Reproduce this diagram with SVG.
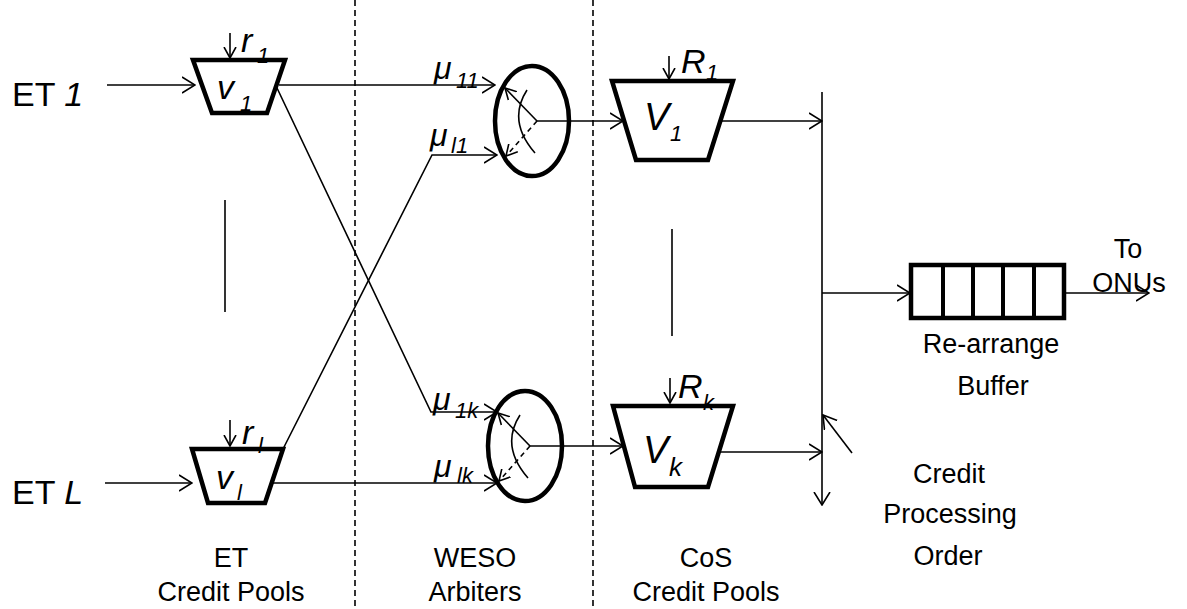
<svg xmlns="http://www.w3.org/2000/svg" width="1187" height="609" viewBox="0 0 1187 609">
<defs>
<style>
.lbl{font-family:"Liberation Sans",Arial,sans-serif;font-size:27px;fill:#000}
.big{font-family:"Liberation Sans",Arial,sans-serif;font-size:34px;fill:#000}
.math{font-family:"Liberation Sans",Arial,sans-serif;font-style:italic;fill:#000}
.shape{fill:#fff;stroke:#000;stroke-width:4.5;stroke-linejoin:miter}
.conn{fill:none;stroke:#000;stroke-width:1.6}
.sep{fill:none;stroke:#000;stroke-width:1.6;stroke-dasharray:6 4}
.thin{fill:none;stroke:#000;stroke-width:1.6}
</style>
<marker id="arr" markerUnits="userSpaceOnUse" viewBox="0 0 14 18" markerWidth="14" markerHeight="18" refX="13" refY="9" orient="auto">
<path d="M0,1 L13,9 L0,17" fill="none" stroke="#000" stroke-width="1.6"/>
</marker>
<marker id="arrs" markerUnits="userSpaceOnUse" viewBox="0 0 12 14" markerWidth="12" markerHeight="14" refX="11" refY="7" orient="auto">
<path d="M0,1 L11,7 L0,13" fill="none" stroke="#000" stroke-width="1.6"/>
</marker>
</defs>
<rect width="1187" height="609" fill="#fff"/>

<g id="separators">
<line class="sep" x1="355" y1="0" x2="355" y2="609"/>
<line class="sep" x1="593" y1="0" x2="593" y2="609"/>
<line class="thin" x1="225" y1="200" x2="225" y2="312"/>
<line class="thin" x1="672" y1="229" x2="672" y2="336"/>
</g>

<g id="connectors">
<line class="conn" x1="107" y1="85" x2="195" y2="85" marker-end="url(#arr)"/>
<line class="conn" x1="105" y1="483" x2="192" y2="483" marker-end="url(#arr)"/>
<line class="conn" x1="279" y1="85" x2="495" y2="85" marker-end="url(#arr)"/>
<polyline class="conn" points="277,88 431,412 497,412" marker-end="url(#arr)"/>
<polyline class="conn" points="283,449 432,155 497,155" marker-end="url(#arr)"/>
<line class="conn" x1="270" y1="483" x2="497" y2="483" marker-end="url(#arr)"/>
<line class="conn" x1="537" y1="121" x2="623" y2="121" marker-end="url(#arr)"/>
<line class="conn" x1="530" y1="446" x2="623" y2="446" marker-end="url(#arr)"/>
<line class="conn" x1="722" y1="121" x2="822" y2="121" marker-end="url(#arr)"/>
<line class="conn" x1="719" y1="452" x2="822" y2="452" marker-end="url(#arr)"/>
<line class="conn" x1="822" y1="92" x2="822" y2="505" marker-end="url(#arr)"/>
<line class="conn" x1="852" y1="453" x2="823" y2="415" marker-end="url(#arr)"/>
<line class="conn" x1="822" y1="293" x2="910" y2="293" marker-end="url(#arr)"/>
<line class="conn" x1="1064" y1="293" x2="1149" y2="293" marker-end="url(#arr)"/>
<line class="conn" x1="230" y1="33" x2="230" y2="58" marker-end="url(#arrs)"/>
<line class="conn" x1="230" y1="420" x2="230" y2="446" marker-end="url(#arrs)"/>
<line class="conn" x1="669" y1="56" x2="669" y2="79" marker-end="url(#arrs)"/>
<line class="conn" x1="670" y1="378" x2="670" y2="403" marker-end="url(#arrs)"/>
</g>

<g id="et1">
<text class="big" x="12" y="106">ET <tspan class="math">1</tspan></text>
</g>
<g id="etL">
<text class="big" x="12" y="504">ET <tspan class="math">L</tspan></text>
</g>

<g id="pool-v1">
<polygon class="shape" points="193,60 285,60 267,113 212,113"/>
<text class="math" x="217" y="99" font-size="34">v</text>
<text class="math" x="240" y="111" font-size="22">1</text>
<text class="math" x="241" y="52" font-size="34">r</text>
<text class="math" x="257" y="63" font-size="22">1</text>
</g>

<g id="pool-vl">
<polygon class="shape" points="192,449 283,449 265,503 208,503"/>
<text class="math" x="216" y="489" font-size="34">v</text>
<text class="math" x="237" y="500" font-size="22">l</text>
<text class="math" x="242" y="444" font-size="34">r</text>
<text class="math" x="258" y="453" font-size="22">l</text>
</g>

<g id="mu-labels">
<text class="math" x="434" y="79" font-size="32">μ</text>
<text class="math" x="456" y="88" font-size="22">11</text>
<text class="math" x="430" y="146" font-size="32">μ</text>
<text class="math" x="451" y="153" font-size="22">l1</text>
<text class="math" x="433" y="410" font-size="32">μ</text>
<text class="math" x="455" y="418" font-size="22">1k</text>
<text class="math" x="434" y="477" font-size="32">μ</text>
<text class="math" x="457" y="483" font-size="22">lk</text>
</g>

<g id="arbiter-1">
<ellipse class="shape" cx="532" cy="121" rx="37" ry="55" style="fill:none"/>
<g id="arb1-inner">
<line class="conn" x1="537" y1="121" x2="505" y2="88" marker-end="url(#arrs)"/>
<line class="conn" x1="537" y1="121" x2="506" y2="156" stroke-dasharray="5 4" marker-end="url(#arrs)"/>
<path class="conn" d="M527,90 Q507,121 535,153"/>
</g>
</g>

<g id="arbiter-k">
<ellipse class="shape" cx="525" cy="446" rx="37" ry="55" style="fill:none"/>
<g transform="translate(-7,325)">
<line class="conn" x1="537" y1="121" x2="505" y2="88" marker-end="url(#arrs)"/>
<line class="conn" x1="537" y1="121" x2="506" y2="156" stroke-dasharray="5 4" marker-end="url(#arrs)"/>
<path class="conn" d="M527,90 Q507,121 535,153"/>
</g>
</g>

<g id="pool-V1">
<polygon class="shape" points="612,81 733,81 708,160 636,160"/>
<text class="math" x="644" y="130" font-size="38">V</text>
<text class="math" x="670" y="141" font-size="22">1</text>
<text class="math" x="681" y="73" font-size="34">R</text>
<text class="math" x="706" y="80" font-size="22">1</text>
</g>

<g id="pool-Vk">
<polygon class="shape" points="613,406 733,406 708,487 635,487"/>
<text class="math" x="643" y="463" font-size="38">V</text>
<text class="math" x="669" y="476" font-size="26">k</text>
<text class="math" x="678" y="398" font-size="34">R</text>
<text class="math" x="703" y="410" font-size="22">k</text>
</g>

<g id="buffer">
<rect class="shape" x="911" y="265" width="153" height="53"/>
<line stroke="#000" stroke-width="4" x1="943" y1="265" x2="943" y2="318"/>
<line stroke="#000" stroke-width="4" x1="973" y1="265" x2="973" y2="318"/>
<line stroke="#000" stroke-width="4" x1="1003" y1="265" x2="1003" y2="318"/>
<line stroke="#000" stroke-width="4" x1="1034" y1="265" x2="1034" y2="318"/>
<text class="lbl" x="991" y="353" text-anchor="middle">Re-arrange</text>
<text class="lbl" x="993" y="395" text-anchor="middle">Buffer</text>
</g>

<g id="to-onus">
<text class="lbl" x="1128" y="258" text-anchor="middle">To</text>
<text class="lbl" x="1129" y="292" text-anchor="middle">ONUs</text>
</g>

<g id="order-label">
<text class="lbl" x="949" y="483" text-anchor="middle">Credit</text>
<text class="lbl" x="950" y="523" text-anchor="middle">Processing</text>
<text class="lbl" x="948" y="565" text-anchor="middle">Order</text>
</g>

<g id="column-labels">
<text class="lbl" x="231" y="567" text-anchor="middle">ET</text>
<text class="lbl" x="231" y="601" text-anchor="middle">Credit Pools</text>
<text class="lbl" x="475" y="567" text-anchor="middle">WESO</text>
<text class="lbl" x="475" y="601" text-anchor="middle">Arbiters</text>
<text class="lbl" x="706" y="567" text-anchor="middle">CoS</text>
<text class="lbl" x="706" y="601" text-anchor="middle">Credit Pools</text>
</g>
</svg>
